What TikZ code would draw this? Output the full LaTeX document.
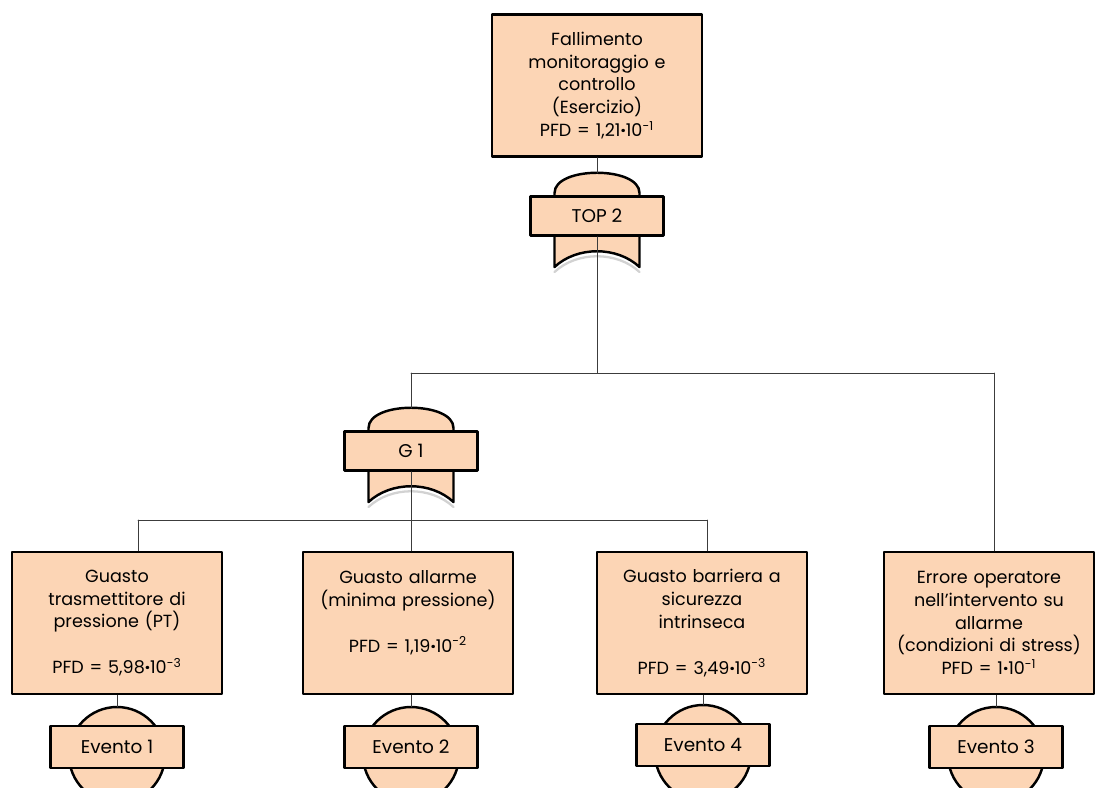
\documentclass[tikz,border=0pt]{standalone}
\usepackage{fontspec}
\setmainfont{Poppins}
\usetikzlibrary{calc}
\definecolor{peach}{RGB}{252,213,181}
\definecolor{wire}{RGB}{60,60,60}
\newcommand{\pdot}{\textbf{·}}
\tikzset{
    evbox/.style={
        draw, line width=1.4pt, fill=peach, inner sep=0pt,
        minimum width=4.2cm, minimum height=2.84cm, text width=4.1cm,
        align=center, font=\fontsize{10}{13}\selectfont
    },
    tag/.style={
        draw, line width=1.4pt, fill=peach, inner sep=0pt,
        minimum width=2.66cm, font=\fontsize{10.5}{13}\selectfont
    },
    wire/.style={draw=wire, line width=0.5pt}
}
% gate: name, x, y of the arch top, label
\newcommand{\orgate}[4]{%
    \draw[gray!35, line width=1.3pt] (#2-42.5,#3+99) .. controls (#2-20,#3+78) and (#2+20,#3+78) .. (#2+42.5,#3+99);
    \filldraw[fill=peach, line width=1.4pt] (#2-42.5,#3+94) -- (#2-42.5,#3+20)
        .. controls (#2-42.5,#3-7) and (#2+42.5,#3-7) .. (#2+42.5,#3+20) -- (#2+42.5,#3+94)
        .. controls (#2+20,#3+73) and (#2-20,#3+73) .. cycle;
    \coordinate (#1in) at (#2,#3);
    \node[tag, minimum height=0.78cm] (#1) at (#2,#3+43) {#4};
}
% basic event: name, x, y of the circle top, label
\newcommand{\evento}[4]{%
    \filldraw[fill=peach, line width=1.4pt] (#2,#3+48) circle (48);
    \coordinate (#1in) at (#2,#3);
    \node[tag, minimum height=0.84cm] (#1) at (#2,#3+40) {#4};
}

\begin{document}
\begin{tikzpicture}[x=0.02cm,y=-0.02cm,line cap=round,line join=round]

    \useasboundingbox (0,0) rectangle (1096,788);
    \clip (0,0) rectangle (1096,788);

% --- top event ---
    \node[evbox] (topbox) at (597,85.5) {Fallimento\\monitoraggio e\\controllo\\(Esercizio)\\PFD = 1,21\pdot10\textsuperscript{-1}};
    \orgate{top2}{597}{173}{TOP 2}
    \draw[wire] (topbox.south) -- (top2in);

% --- first split ---
    \coordinate (jL) at (411,373);
    \coordinate (jR) at (994,373);
    \draw[wire] (top2.south) -- (top2.south |- jL);
    \draw[wire] (jL) -- (jR);

    \orgate{g1}{411}{408}{G 1}
    \draw[wire] (jL) -- (g1in);

% --- basic events ---
    \node[evbox] (b1) at (117,623) {Guasto\\trasmettitore di\\pressione (PT)\\[13pt]PFD = 5,98\pdot10\textsuperscript{-3}};
    \node[evbox] (b2) at (408,623) {Guasto allarme\\(minima pressione)\\[13pt]PFD = 1,19\pdot10\textsuperscript{-2}\\\mbox{}};
    \node[evbox] (b3) at (702,623) {Guasto barriera a\\sicurezza\\intrinseca\\[13pt]PFD = 3,49\pdot10\textsuperscript{-3}};
    \node[evbox] (b4) at (989,623) {Errore operatore\\nell’intervento su\\allarme\\(condizioni di stress)\\PFD = 1\pdot10\textsuperscript{-1}};

    \coordinate (k1) at (138,520);
    \coordinate (k2) at (411,520);
    \coordinate (k3) at (707,520);
    \draw[wire] (g1.south) -- (k2);
    \draw[wire] (k1) -- (k3);
    \draw[wire] (k1) -- (k1 |- b1.north);
    \draw[wire] (k2) -- (k2 |- b2.north);
    \draw[wire] (k3) -- (k3 |- b3.north);
    \draw[wire] (jR) -- (jR |- b4.north);

    \evento{e1}{117}{707}{Evento 1}
    \evento{e2}{411}{707}{Evento 2}
    \evento{e3}{703}{705}{Evento 4}
    \evento{e4}{996}{707}{Evento 3}
    \draw[wire] (b1.south) -- (e1in);
    \draw[wire] (e2in |- b2.south) -- (e2in);
    \draw[wire] (e3in |- b3.south) -- (e3in);
    \draw[wire] (e4in |- b4.south) -- (e4in);

\end{tikzpicture}
\end{document}
